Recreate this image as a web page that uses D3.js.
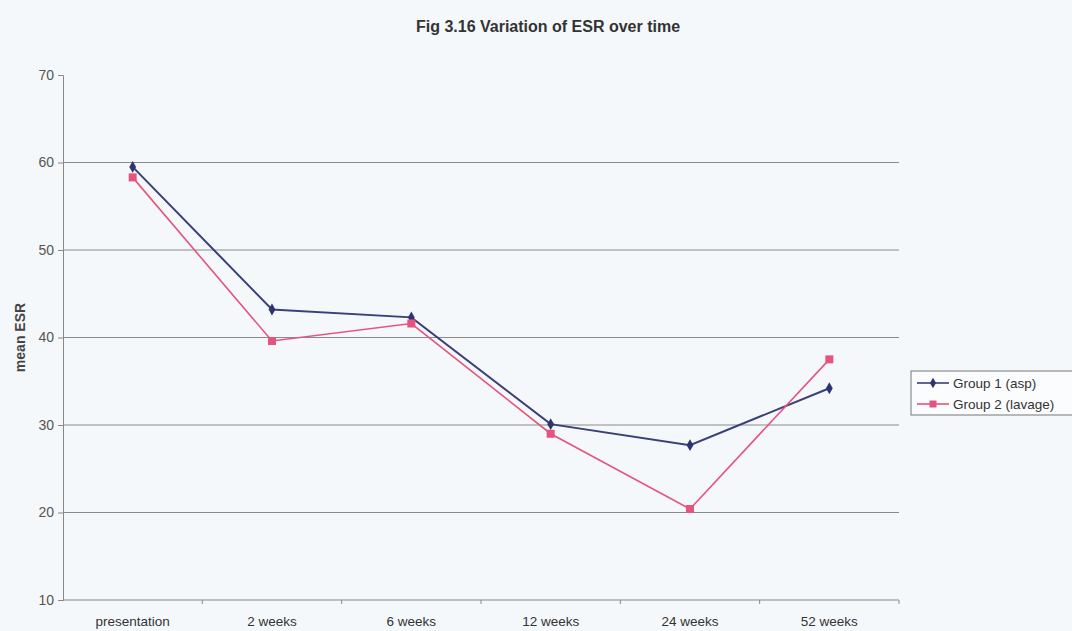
<!DOCTYPE html>
<html>
<head>
<meta charset="utf-8">
<script src="https://cdn.jsdelivr.net/npm/d3@7"></script>
<style>
  body { margin: 0; background: #f5f8fb; }
  svg { display: block; }
  text { font-family: "Liberation Sans", Arial, sans-serif; fill: #444; }
</style>
</head>
<body>
<svg id="chart" width="1072" height="631"></svg>
<script>
// data
const categories = ["presentation", "2 weeks", "6 weeks", "12 weeks", "24 weeks", "52 weeks"];
const group1 = [59.5, 43.2, 42.3, 30.1, 27.7, 34.2];
const group2 = [58.3, 39.6, 41.6, 29.0, 20.4, 37.5];
const yTicks = [10, 20, 30, 40, 50, 60, 70];
const seriesNames = ["Group 1 (asp)", "Group 2 (lavage)"];

const svg = d3.select("#chart");
const plotLeft = 63, plotRight = 899, plotTop = 75, plotBottom = 600;

const x = d3.scaleBand().domain(categories).range([plotLeft, plotRight]);
const y = d3.scaleLinear().domain([10, 70]).range([plotBottom, plotTop]);

// title
svg.append("text")
    .attr("x", 548).attr("y", 32)
    .attr("text-anchor", "middle")
    .style("font-size", "16px").style("font-weight", "bold")
    .style("fill", "#333")
    .text("Fig 3.16 Variation of ESR over time");

// grid lines (not at the axis / top)
svg.append("g")
    .selectAll("line")
    .data(yTicks.filter(d => d > 10 && d < 70))
    .join("line")
    .attr("x1", plotLeft).attr("x2", plotRight)
    .attr("y1", d => y(d)).attr("y2", d => y(d))
    .attr("stroke", "#8a8a8a").attr("stroke-width", 1);

// y axis
const yAxis = svg.append("g")
    .attr("transform", `translate(${plotLeft},0)`)
    .call(d3.axisLeft(y).tickValues(yTicks).tickSize(5).tickPadding(4));
yAxis.select(".domain").attr("stroke", "#888");
yAxis.selectAll(".tick line").attr("stroke", "#888");
yAxis.selectAll(".tick text").style("font-size", "14px").style("fill", "#555");

// x axis with ticks at band boundaries
const xAxisG = svg.append("g").attr("transform", `translate(0,${plotBottom})`);
xAxisG.append("line")
    .attr("x1", plotLeft).attr("x2", plotRight)
    .attr("stroke", "#888");
xAxisG.selectAll(".xt")
    .data(categories.map((c, i) => i + 1))
    .join("line")
    .attr("class", "xt")
    .attr("x1", i => plotLeft + x.step() * i).attr("x2", i => plotLeft + x.step() * i)
    .attr("y1", 0).attr("y2", 4)
    .attr("stroke", "#888");
xAxisG.selectAll(".xl")
    .data(categories)
    .join("text")
    .attr("class", "xl")
    .attr("x", d => x(d) + x.bandwidth() / 2)
    .attr("y", 26)
    .attr("text-anchor", "middle")
    .style("font-size", "13.5px")
    .style("fill", "#333")
    .text(d => d);

// y label
svg.append("text")
    .attr("transform", `translate(25,${(plotTop + plotBottom) / 2}) rotate(-90)`)
    .attr("text-anchor", "middle")
    .style("font-size", "14px").style("font-weight", "bold")
    .style("fill", "#444")
    .text("mean ESR");

const colors = ["#3a3f78", "#e4547e"];
const line = d3.line()
    .x((d, i) => x(categories[i]) + x.bandwidth() / 2)
    .y(d => y(d));

[group1, group2].forEach((vals, k) => {
    svg.append("path")
        .datum(vals)
        .attr("fill", "none")
        .attr("stroke", colors[k])
        .attr("stroke-width", k === 0 ? 2 : 1.6)
        .attr("d", line);
});

// markers
svg.append("g").selectAll("path")
    .data(group1)
    .join("path")
    .attr("transform", (d, i) => `translate(${x(categories[i]) + x.bandwidth() / 2},${y(d)})`)
    .attr("d", d3.symbol(d3.symbolDiamond, 40)())
    .attr("fill", "#2e3470");
svg.append("g").selectAll("rect")
    .data(group2)
    .join("rect")
    .attr("x", (d, i) => x(categories[i]) + x.bandwidth() / 2 - 4)
    .attr("y", d => y(d) - 4)
    .attr("width", 8).attr("height", 8)
    .attr("fill", "#e4547e");

// legend
const lg = svg.append("g").attr("transform", "translate(911,371)");
lg.append("rect")
    .attr("x", 0).attr("y", 0).attr("width", 170).attr("height", 44)
    .attr("fill", "#fbfcfd").attr("stroke", "#777");
seriesNames.forEach((name, k) => {
    const yy = 12 + k * 21;
    lg.append("line").attr("x1", 6).attr("x2", 38).attr("y1", yy).attr("y2", yy)
        .attr("stroke", colors[k]).attr("stroke-width", 1.6);
    if (k === 0) {
        lg.append("path").attr("transform", `translate(22,${yy})`)
            .attr("d", d3.symbol(d3.symbolDiamond, 32)()).attr("fill", "#2e3470");
    } else {
        lg.append("rect").attr("x", 18.5).attr("y", yy - 3.5).attr("width", 7).attr("height", 7)
            .attr("fill", colors[k]);
    }
    lg.append("text").attr("x", 42).attr("y", yy + 4.5)
        .style("font-size", "13.5px").style("fill", "#333")
        .text(name);
});
</script>
</body>
</html>
